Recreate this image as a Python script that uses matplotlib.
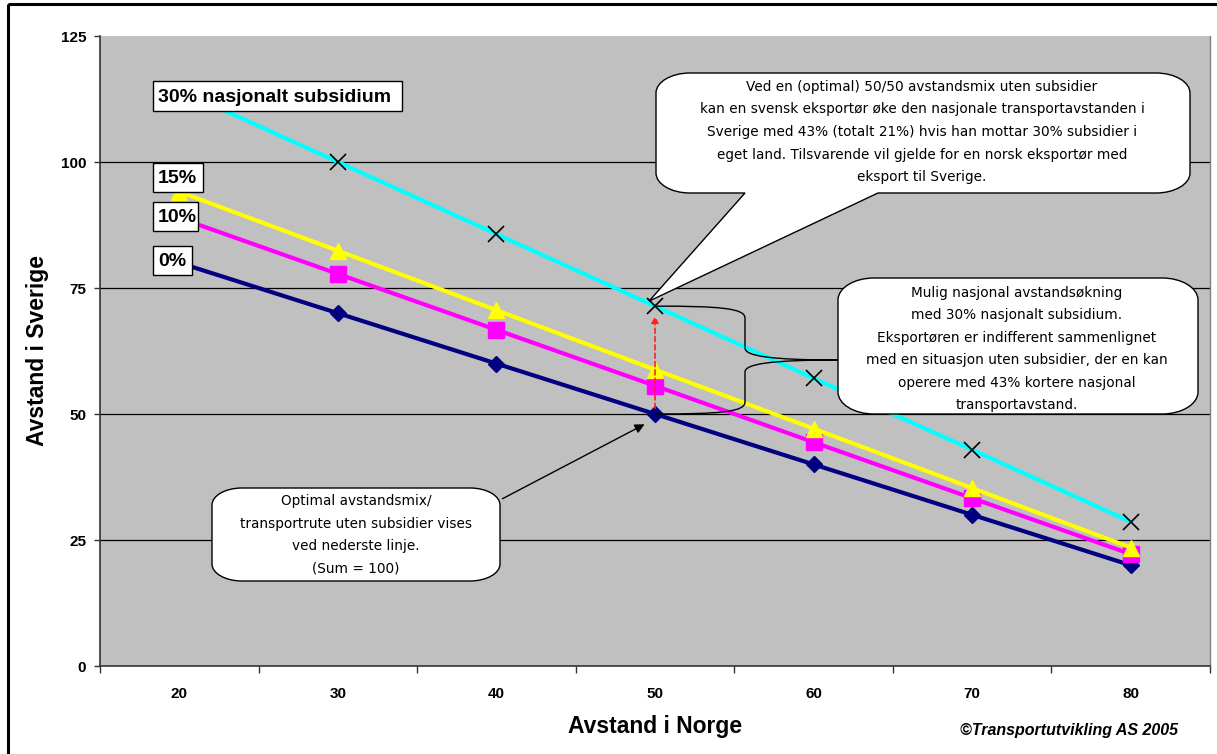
import matplotlib
matplotlib.use("Agg")
import matplotlib.pyplot as plt
from matplotlib.path import Path
from matplotlib.patches import PathPatch, FancyArrowPatch, Rectangle
from matplotlib.transforms import Affine2D

# ---- data -------------------------------------------------------------
norge = ["20", "30", "40", "50", "60", "70", "80"]
sverige_0 = [80, 70, 60, 50, 40, 30, 20]
sverige_10 = [88.9, 77.8, 66.7, 55.6, 44.4, 33.3, 22.2]
sverige_15 = [94.1, 82.4, 70.6, 58.8, 47.1, 35.3, 23.5]
sverige_30 = [114.3, 100.0, 85.7, 71.4, 57.1, 42.9, 28.6]
y_ticks = [0, 25, 50, 75, 100, 125]

W, H = 1217, 754
fig = plt.figure(figsize=(W / 100, H / 100), dpi=100, facecolor="white")
ax = fig.add_axes([100 / W, 1 - 666 / H, 1110 / W, 630 / H])
ax.set_facecolor("#C0C0C0")

# pixel frame with origin at top-left of the figure
PX = Affine2D().scale(1 / W, -1 / H).translate(0, 1) + fig.transFigure

xs = list(range(len(norge)))
ax.set_xlim(-0.5, len(norge) - 0.5)
ax.set_ylim(0, 125)

for y in y_ticks[1:-1]:
    ax.axhline(y, color="black", lw=0.9, zorder=1)

ax.plot(xs, sverige_30, color="#00FFFF", lw=3, marker="x", ms=11, mec="black",
        mew=1.2, zorder=3)
ax.plot(xs, sverige_0, color="#000080", lw=3, marker="D", ms=8, zorder=4)
ax.plot(xs, sverige_10, color="#FF00FF", lw=3, marker="s", ms=11, zorder=5)
ax.plot(xs, sverige_15, color="#FFFF00", lw=3, marker="^", ms=12, zorder=6)

# axes styling
ax.set_yticks(y_ticks)
ax.set_xticks([i - 0.5 for i in range(len(norge) + 1)])
ax.set_xticklabels([])
ax.set_xticks(xs, minor=True)
ax.set_xticklabels(norge, minor=True)
ax.tick_params(axis="x", which="major", direction="out", length=5, width=1,
               color="#333333")
ax.tick_params(axis="x", which="minor", length=0, pad=15)
ax.tick_params(axis="y", direction="out", length=4, width=1, pad=6,
               color="#333333")
for lab in ax.get_xticklabels(minor=True) + ax.get_yticklabels():
    lab.set_fontfamily("Liberation Sans")
    lab.set_fontweight("bold")
    lab.set_fontsize(11)
ax.spines["top"].set_visible(False)
ax.spines["right"].set_color("#808080")
ax.spines["right"].set_linewidth(1)
for side in ["left", "bottom"]:
    ax.spines[side].set_color("#333333")
    ax.spines[side].set_linewidth(1.2)

ax.set_ylabel("Avstand i Sverige", fontfamily="Liberation Sans",
              fontweight="bold", fontsize=16.5)
ax.yaxis.set_label_coords((38 - 100) / 1110, 0.5)
ax.yaxis.label.set_va("center")
ax.set_xlabel("Avstand i Norge", fontfamily="Liberation Sans",
              fontweight="bold", fontsize=16.5)
ax.xaxis.set_label_coords(0.5, -(726 - 666) / 630)
ax.xaxis.label.set_va("center")

fig.text(1069, 731, "\u00a9Transportutvikling AS 2005", transform=PX,
         ha="center", va="center", fontfamily="Liberation Sans",
         fontweight="bold", fontstyle="italic", fontsize=11.5)

# outer frame of the figure
fig.patches.append(Rectangle((8, 4), 1300, 900, transform=PX, fill=False,
                             edgecolor="black", lw=2.2))


def to_px(x, y):
    dx, dy = ax.transData.transform((x, y))
    return dx * W / fig.bbox.width, H - dy * H / fig.bbox.height


# series labels in white framed boxes
for (bx0, by0, bw, bh), txt in [((153, 81, 249, 30), "30% nasjonalt subsidium"),
                                ((153, 163, 50, 29), "15%"),
                                ((153, 202, 45, 29), "10%"),
                                ((153, 246, 39, 29), "0%")]:
    fig.patches.append(Rectangle((bx0, by0), bw, bh, transform=PX, fc="white",
                                 ec="black", lw=1, zorder=10))
    fig.text(bx0 + 5, by0 + bh / 2 + 1, txt, transform=PX, ha="left",
             va="center", fontfamily="Liberation Sans", fontweight="bold",
             fontsize=14, zorder=10.5)


def callout_path(x0, y0, x1, y1, rx, ry, wedge=None):
    k = 0.5523
    v = [(x0 + rx, y0), (x1 - rx, y0),
         (x1 - rx + k * rx, y0), (x1, y0 + ry - k * ry), (x1, y0 + ry),
         (x1, y1 - ry),
         (x1, y1 - ry + k * ry), (x1 - rx + k * rx, y1), (x1 - rx, y1)]
    c = [Path.MOVETO, Path.LINETO, Path.CURVE4, Path.CURVE4, Path.CURVE4,
         Path.LINETO, Path.CURVE4, Path.CURVE4, Path.CURVE4]
    if wedge is not None:
        b0, b1, apex = wedge
        v += [(b1, y1), apex, (b0, y1)]
        c += [Path.LINETO] * 3
    v += [(x0 + rx, y1),
          (x0 + rx - k * rx, y1), (x0, y1 - ry + k * ry), (x0, y1 - ry),
          (x0, y0 + ry),
          (x0, y0 + ry - k * ry), (x0 + rx - k * rx, y0), (x0 + rx, y0),
          (x0 + rx, y0)]
    c += [Path.LINETO, Path.CURVE4, Path.CURVE4, Path.CURVE4, Path.LINETO,
          Path.CURVE4, Path.CURVE4, Path.CURVE4, Path.CLOSEPOLY]
    return Path(v, c)


note_kw = dict(transform=PX, ha="center", va="center",
               fontfamily="DejaVu Sans", fontsize=9.8, linespacing=1.78,
               zorder=12)

# upper callout pointing at the 30 % curve
p30 = to_px(3, sverige_30[3])
fig.patches.append(PathPatch(
    callout_path(656, 73, 1190, 193, 34, 20,
                 wedge=(745, 878, (p30[0] - 6, p30[1] - 5))),
    transform=PX, fc="white", ec="black", lw=1, zorder=11))
fig.text(922, 132,
         "Ved en (optimal) 50/50 avstandsmix uten subsidier\n"
         "kan en svensk eksport\u00f8r \u00f8ke den nasjonale transportavstanden i\n"
         "Sverige med 43% (totalt 21%) hvis han mottar 30% subsidier i\n"
         "eget land. Tilsvarende vil gjelde for en norsk eksport\u00f8r med\n"
         "eksport til Sverige.", **note_kw)

# right callout with brace spanning 0 % to 30 % at 50
p0 = to_px(3, sverige_0[3])
fig.patches.append(PathPatch(
    callout_path(838, 278, 1198, 414, 36, 22),
    transform=PX, fc="white", ec="black", lw=1, zorder=11))
fig.text(1017, 349,
         "Mulig nasjonal avstands\u00f8kning\n"
         "med 30% nasjonalt subsidium.\n"
         "Eksport\u00f8ren er indifferent sammenlignet\n"
         "med en situasjon uten subsidier, der en kan\n"
         "operere med 43% kortere nasjonal\n"
         "transportavstand.", **note_kw)

bx, tip = 745, (838, 360)
brace = Path(
    [p30, (p30[0] + 65, p30[1]), (bx, p30[1] + 2), (bx, p30[1] + 12),
     (bx, tip[1] - 12),
     (bx, tip[1] - 4), (bx + 25, tip[1]), tip,
     (bx + 25, tip[1]), (bx, tip[1] + 4), (bx, tip[1] + 12),
     (bx, p0[1] - 12),
     (bx, p0[1] - 2), (p0[0] + 65, p0[1]), p0],
    [Path.MOVETO, Path.CURVE4, Path.CURVE4, Path.CURVE4, Path.LINETO,
     Path.CURVE4, Path.CURVE4, Path.CURVE4,
     Path.CURVE4, Path.CURVE4, Path.CURVE4, Path.LINETO,
     Path.CURVE4, Path.CURVE4, Path.CURVE4])
fig.patches.append(PathPatch(brace, transform=PX, fill=False, ec="black",
                             lw=1, zorder=9))

# red dashed arrow showing the increase
fig.patches.append(FancyArrowPatch(
    (p0[0], p0[1] - 3), (p30[0], p30[1] + 7), transform=PX,
    arrowstyle="-|>", mutation_scale=10, color="#FF2020", lw=1.2,
    linestyle=(0, (3, 2)), zorder=9))

# lower callout with arrow to the optimal point
fig.patches.append(PathPatch(
    callout_path(212, 488, 500, 581, 30, 17),
    transform=PX, fc="white", ec="black", lw=1, zorder=11))
fig.text(356, 535,
         "Optimal avstandsmix/\n"
         "transportrute uten subsidier vises\n"
         "ved nederste linje.\n"
         "(Sum = 100)", **note_kw)
fig.patches.append(FancyArrowPatch(
    (500, 500), (p0[0] - 8, p0[1] + 9), transform=PX,
    arrowstyle="-|>", mutation_scale=14, color="black", lw=1, zorder=9))

fig.savefig("out.png", dpi=100, facecolor="white")
